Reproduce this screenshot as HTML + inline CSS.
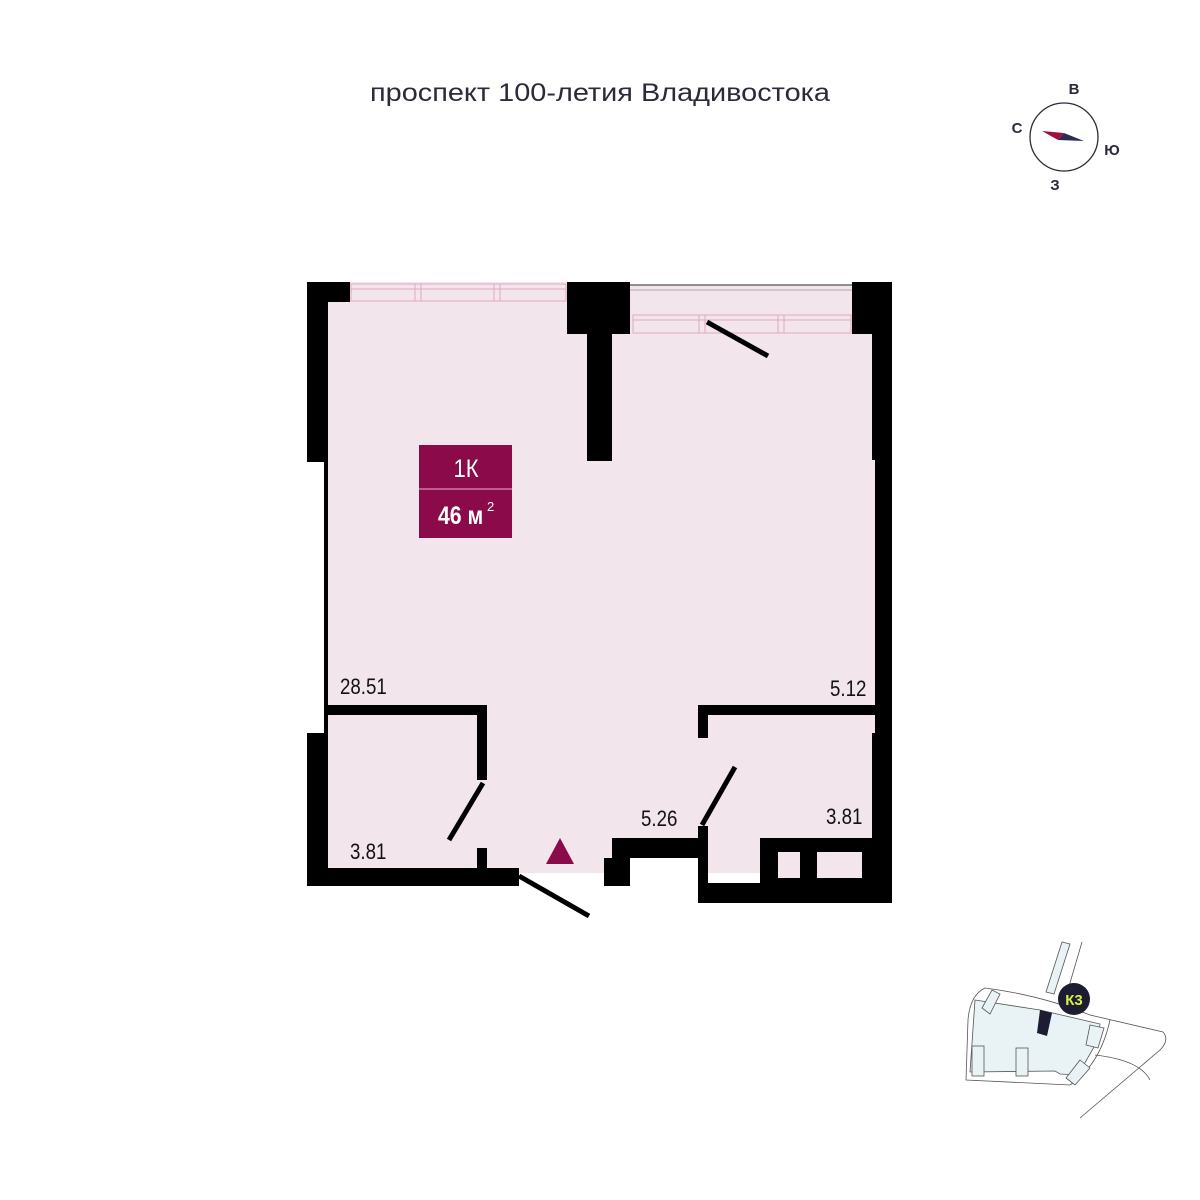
<!DOCTYPE html>
<html><head><meta charset="utf-8"><style>
html,body{margin:0;padding:0;background:#fff;}
svg{display:block}
text{font-family:"Liberation Sans",sans-serif;}
</style></head><body>
<svg width="1200" height="1200" viewBox="0 0 1200 1200" xmlns="http://www.w3.org/2000/svg">
<text x="370" y="101" font-size="25" fill="#2a2a3a" textLength="460" lengthAdjust="spacingAndGlyphs">проспект 100-летия Владивостока</text>
<!-- compass -->
<circle cx="1064" cy="137" r="34" fill="none" stroke="#2a2a3a" stroke-width="1.3"/>
<polygon points="1042,131 1064,133 1058,140" fill="#a0103f"/>
<polygon points="1064,133 1084,141 1058,140" fill="#2a2d55"/>
<text x="1074" y="94" text-anchor="middle" font-size="15" font-weight="bold" fill="#2a2a3a">В</text>
<text x="1017" y="133" text-anchor="middle" font-size="15" font-weight="bold" fill="#2a2a3a">С</text>
<text x="1112" y="155" text-anchor="middle" font-size="15" font-weight="bold" fill="#2a2a3a">Ю</text>
<text x="1055" y="190" text-anchor="middle" font-size="15" font-weight="bold" fill="#2a2a3a">З</text>
<!-- floor -->
<rect x="328" y="302" width="547" height="571" fill="#f3e5ec"/>
<rect x="630" y="285" width="222" height="50" fill="#f3e5ec"/>
<rect x="350" y="282" width="217" height="20" fill="#f3e5ec"/>
<rect x="612" y="858" width="86" height="50" fill="#fff"/>
<rect x="708" y="883" width="170" height="25" fill="#fff"/>
<!-- windows -->
<g fill="none" stroke="#e0a8c0" stroke-width="1">
<rect x="351" y="284" width="215" height="17"/>
<line x1="351" y1="289" x2="566" y2="289"/>
<rect x="415" y="284" width="6" height="17"/><rect x="494" y="284" width="6" height="17"/>
<rect x="633" y="315" width="218" height="18"/>
<line x1="633" y1="320" x2="851" y2="320"/>
<rect x="699" y="315" width="6" height="18"/><rect x="778" y="315" width="6" height="18"/>
</g>
<line x1="630" y1="285" x2="852" y2="285" stroke="#555" stroke-width="1.2"/>
<line x1="630" y1="290" x2="852" y2="290" stroke="#aaa" stroke-width="1"/>
<!-- walls -->
<g fill="#000">
<rect x="307" y="282" width="43" height="20"/>
<rect x="307" y="282" width="21" height="180"/>
<rect x="324" y="462" width="4" height="271"/>
<rect x="307" y="733" width="21" height="153"/>
<rect x="567" y="282" width="63" height="52"/>
<rect x="587" y="334" width="25" height="127"/>
<rect x="852" y="282" width="40" height="52"/>
<rect x="872" y="334" width="20" height="126"/>
<rect x="875" y="460" width="17" height="273"/>
<rect x="872" y="733" width="20" height="170"/>
<rect x="328" y="705" width="159" height="10"/>
<rect x="477" y="705" width="10" height="75"/>
<rect x="477" y="848" width="10" height="22"/>
<rect x="307" y="868" width="212" height="18"/>
<rect x="612" y="838" width="88" height="20"/>
<rect x="604" y="858" width="26" height="28"/>
<rect x="698" y="705" width="177" height="10"/>
<rect x="698" y="705" width="10" height="33"/>
<rect x="698" y="826" width="10" height="77"/>
<rect x="698" y="883" width="194" height="20"/>
<rect x="760" y="838" width="115" height="45"/>
</g>
<rect x="778" y="852" width="22" height="26" fill="#f3e5ec"/>
<rect x="817" y="852" width="45" height="26" fill="#f3e5ec"/>
<!-- doors -->
<g stroke="#000" stroke-width="5">
<line x1="707" y1="322" x2="768" y2="356"/>
<line x1="483" y1="783" x2="449" y2="840"/>
<line x1="519" y1="876" x2="589" y2="916"/>
<line x1="735" y1="767" x2="702" y2="825"/>
</g>
<polygon points="560,838 574,864 546,864" fill="#8b0a4a"/>
<!-- label -->
<rect x="419" y="445" width="93" height="93" fill="#8b0a4a"/>
<line x1="419" y1="489" x2="512" y2="489" stroke="#e8b8cc" stroke-width="1"/>
<text x="466" y="477" text-anchor="middle" font-size="25" fill="#fff" transform="translate(466 0) scale(0.88 1) translate(-466 0)">1К</text>
<text x="438" y="524" font-size="25" font-weight="bold" fill="#fff" transform="translate(438 0) scale(0.85 1) translate(-438 0)">46 м</text>
<text x="487" y="511" font-size="13" fill="#fff">2</text>
<!-- area labels -->
<g font-size="22" fill="#111">
<text x="340" y="694" transform="translate(340 0) scale(0.85 1) translate(-340 0)">28.51</text>
<text x="830" y="696" transform="translate(830 0) scale(0.85 1) translate(-830 0)">5.12</text>
<text x="641" y="826" transform="translate(641 0) scale(0.85 1) translate(-641 0)">5.26</text>
<text x="826" y="824" transform="translate(826 0) scale(0.85 1) translate(-826 0)">3.81</text>
<text x="350" y="859" transform="translate(350 0) scale(0.85 1) translate(-350 0)">3.81</text>
</g>
<!-- site plan -->
<g stroke="#555" stroke-width="0.8" fill="none">
<path d="M985,988 Q1040,995 1090,1015 L1163,1032 Q1170,1040 1160,1050 L1080,1118"/>
<path d="M985,988 Q970,995 968,1020 L966,1080 L1070,1085 Q1100,1065 1110,1020"/>
<path d="M1095,1055 Q1140,1060 1150,1080"/>
<path d="M1082,942 L1065,1000"/>
</g>
<path d="M975,1000 L1040,1010 L1100,1024 L1098,1040 L1078,1075 L1060,1074 L1055,1071 L970,1072 Z" fill="#e9f3f6" stroke="#555" stroke-width="0.8"/>
<g fill="#e9f3f6" stroke="#555" stroke-width="0.8">
<polygon points="1062,942 1070,944 1054,994 1046,992"/>
<polygon points="982,1008 992,990 1000,994 990,1014"/>
<rect x="972" y="1046" width="12" height="30"/>
<rect x="1016" y="1048" width="12" height="28"/>
<polygon points="1090,1025 1104,1028 1098,1048 1086,1045"/>
<polygon points="1080,1060 1090,1068 1075,1085 1066,1078"/>
</g>
<polygon points="1040,1010 1052,1013 1047,1036 1037,1033" fill="#1c1c33"/>
<circle cx="1074" cy="999" r="16" fill="#1c1c33"/>
<text x="1074" y="1005" text-anchor="middle" font-size="15" font-weight="bold" fill="#d9f23a">К3</text>
</svg>
</body></html>
